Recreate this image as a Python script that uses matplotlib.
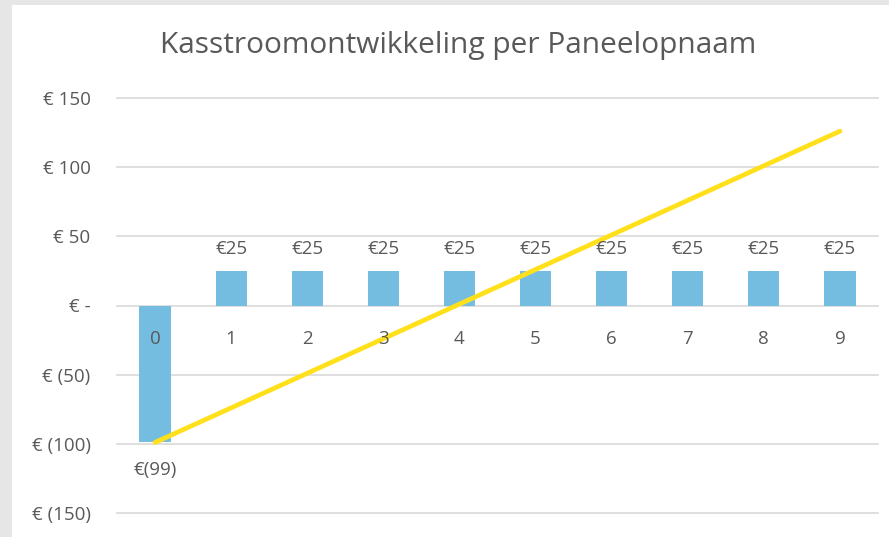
import numpy as np
import matplotlib.pyplot as plt
from matplotlib.patches import Rectangle

plt.rcParams['font.family'] = ['Open Sans', 'DejaVu Sans']

# data
years = [0, 1, 2, 3, 4, 5, 6, 7, 8, 9]
cashflow = [-99, 25, 25, 25, 25, 25, 25, 25, 25, 25]
cumulative = [-99, -74, -49, -24, 1, 26, 51, 76, 101, 126]
bar_labels = ["€(99)", "€25", "€25", "€25", "€25", "€25", "€25", "€25", "€25", "€25"]
yticks = [-150, -100, -50, 0, 50, 100, 150]
ytick_labels = ["€ (150)", "€ (100)", "€ (50)", "€ -", "€ 50", "€ 100", "€ 150"]
title = "Kasstroomontwikkeling per Paneelopnaam"

txt = "#595959"
fs = 13.5
fig = plt.figure(figsize=(8.89, 5.37), dpi=100)
fig.patch.set_facecolor("#E6E6E6")
fig.patches.append(Rectangle((12 / 889, 0), 1, 1 - 5 / 537, transform=fig.transFigure,
                             facecolor="white", edgecolor="none", zorder=-5))

ax = fig.add_axes([117 / 889, 1 - 513 / 537, (878 - 117) / 889, (513 - 98) / 537])
ax.set_facecolor("none")
x = np.arange(len(years))
ax.bar(x, cashflow, width=0.41, color="#75BDE0", zorder=2)
ax.plot(x, cumulative, color="#FFE01A", lw=3.4, solid_capstyle="round", zorder=3)

ax.set_xlim(-0.5, len(years) - 0.5)
ax.set_ylim(-150, 150)
ax.set_yticks(yticks)
ax.set_yticklabels(ytick_labels, color=txt, fontsize=fs)
ax.tick_params(axis="y", length=0, pad=19)
ax.set_xticks([])
ax.grid(axis="y", color="#D9D9D9", lw=1.2, zorder=0)
for g in ax.yaxis.get_gridlines():
    g.set_clip_on(False)
for s in ax.spines.values():
    s.set_visible(False)

for xi, yr in zip(x, years):
    ax.text(xi, -24, str(yr), ha="center", va="center", color=txt, fontsize=fs, zorder=4)

for xi, v, lab in zip(x, cashflow, bar_labels):
    if v >= 0:
        ax.text(xi, v + 16, lab, ha="center", va="center", color=txt, fontsize=fs)
    else:
        ax.text(xi, v - 20, lab, ha="center", va="center", color=txt, fontsize=fs)

fig.text((160 + 757) / 2 / 889, 1 - 46 / 537, title, ha="center", va="center",
         color=txt, fontsize=21.5)

fig.savefig("out.png", dpi=100)
